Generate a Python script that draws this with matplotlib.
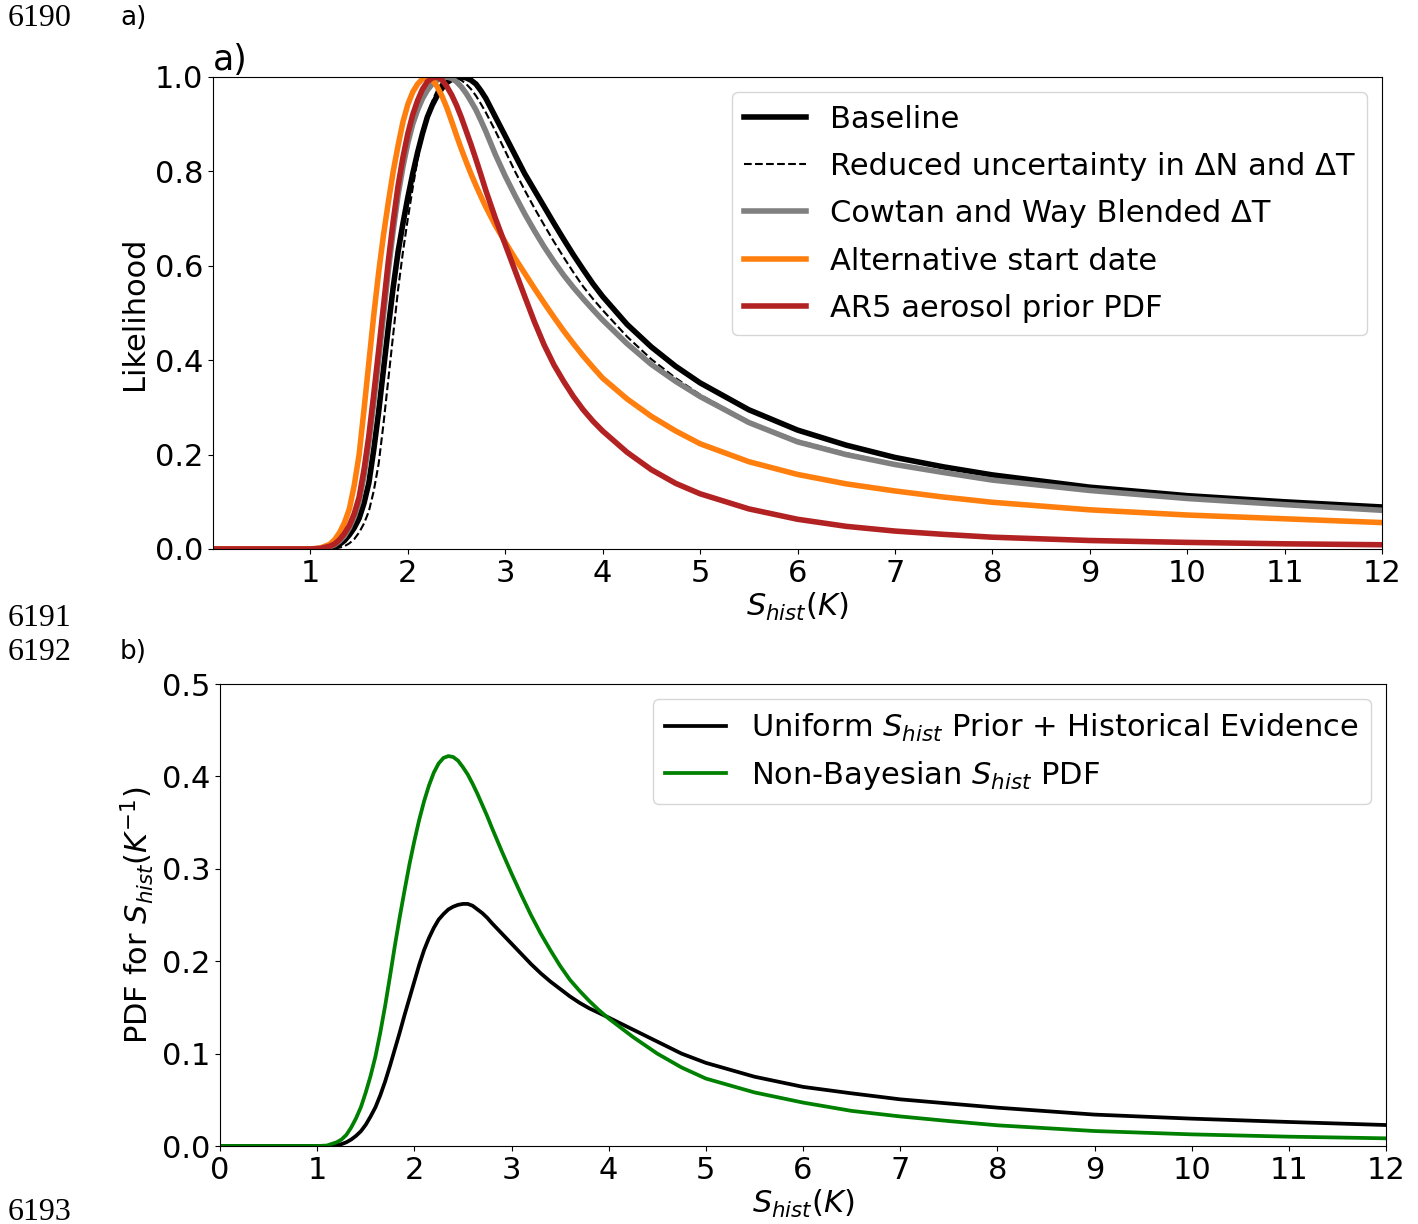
import matplotlib
matplotlib.use("Agg")
import matplotlib.pyplot as plt

# sensitivity grid (K), shared by all curves
s_hist = [0, 0.5, 1.0, 1.1,
          1.2, 1.25, 1.3, 1.35, 1.4, 1.45, 1.5, 1.55, 1.6, 1.65, 1.7, 1.75, 1.8, 1.85, 1.9, 1.95,
          2.0, 2.05, 2.1, 2.15, 2.2, 2.25, 2.3, 2.35, 2.4, 2.45, 2.5, 2.55, 2.6, 2.65, 2.7, 2.75, 2.8,
          2.9, 3.0, 3.1, 3.2, 3.3, 3.4, 3.5, 3.6, 3.7, 3.8, 3.9, 4.0,
          4.25, 4.5, 4.75, 5.0, 5.5, 6.0, 6.5, 7.0, 7.5, 8.0, 9.0, 10.0, 11.0, 12.0]

# panel a) likelihoods
baseline = [0, 0, 0, 0.001,
            0.003, 0.006, 0.01, 0.018, 0.03, 0.045, 0.065, 0.097, 0.14, 0.21, 0.29, 0.38, 0.47, 0.555, 0.63, 0.69,
            0.745, 0.795, 0.84, 0.88, 0.915, 0.94, 0.96, 0.976, 0.988, 0.995, 0.999, 1.0, 0.998, 0.993, 0.985, 0.971, 0.955,
            0.915, 0.875, 0.835, 0.795, 0.76, 0.725, 0.69, 0.656, 0.623, 0.592, 0.562, 0.535,
            0.476, 0.428, 0.387, 0.352, 0.295, 0.252, 0.22, 0.194, 0.174, 0.157, 0.131, 0.113, 0.100, 0.089]
reduced = [0, 0, 0, 0,
           0.0005, 0.001, 0.003, 0.006, 0.012, 0.021, 0.035, 0.054, 0.08, 0.123, 0.18, 0.265, 0.36, 0.455, 0.55, 0.63,
           0.70, 0.765, 0.825, 0.875, 0.915, 0.948, 0.972, 0.988, 0.996, 1.0, 0.998, 0.993, 0.985, 0.974, 0.96, 0.943, 0.925,
           0.885, 0.843, 0.8, 0.76, 0.722, 0.686, 0.651, 0.618, 0.586, 0.556, 0.53, 0.506,
           0.45, 0.402, 0.362, 0.327, 0.27, 0.23, 0.203, 0.181, 0.163, 0.147, 0.125, 0.108, 0.095, 0.083]
cowtan_way = [0, 0, 0, 0.001,
              0.005, 0.009, 0.017, 0.028, 0.045, 0.068, 0.1, 0.155, 0.225, 0.31, 0.40, 0.495, 0.59, 0.675, 0.75, 0.81,
              0.86, 0.9, 0.93, 0.954, 0.972, 0.985, 0.993, 0.998, 1.0, 0.997, 0.99, 0.979, 0.965, 0.948, 0.93, 0.908, 0.885,
              0.835, 0.79, 0.749, 0.71, 0.674, 0.64, 0.609, 0.58, 0.554, 0.53, 0.507, 0.485,
              0.435, 0.391, 0.355, 0.323, 0.268, 0.227, 0.2, 0.179, 0.162, 0.146, 0.124, 0.107, 0.094, 0.082]
alt_start = [0, 0, 0, 0.002,
             0.01, 0.02, 0.035, 0.056, 0.085, 0.135, 0.2, 0.295, 0.395, 0.495, 0.585, 0.665, 0.735, 0.80, 0.855, 0.905,
             0.942, 0.968, 0.985, 0.996, 1.0, 0.995, 0.98, 0.96, 0.935, 0.906, 0.876, 0.847, 0.82, 0.794, 0.77, 0.747, 0.725,
             0.685, 0.65, 0.616, 0.584, 0.552, 0.521, 0.491, 0.462, 0.435, 0.409, 0.385, 0.362,
             0.318, 0.281, 0.25, 0.223, 0.185, 0.158, 0.138, 0.123, 0.11, 0.099, 0.083, 0.072, 0.064, 0.056]
ar5_aerosol = [0, 0, 0, 0.001,
               0.006, 0.011, 0.02, 0.033, 0.05, 0.075, 0.11, 0.168, 0.24, 0.328, 0.42, 0.515, 0.61, 0.695, 0.77, 0.83,
               0.88, 0.92, 0.95, 0.974, 0.99, 0.998, 1.0, 0.994, 0.98, 0.962, 0.94, 0.914, 0.885, 0.856, 0.825, 0.793, 0.76,
               0.70, 0.645, 0.59, 0.535, 0.481, 0.432, 0.39, 0.355, 0.323, 0.295, 0.271, 0.25,
               0.205, 0.168, 0.139, 0.117, 0.085, 0.063, 0.048, 0.038, 0.031, 0.025, 0.018, 0.014, 0.011, 0.009]

# panel b) PDFs
uniform_pdf = [0, 0, 0, 0,
               0.001, 0.002, 0.004, 0.007, 0.011, 0.016, 0.023, 0.032, 0.042, 0.055, 0.07, 0.087, 0.105, 0.123, 0.142, 0.16,
               0.178, 0.196, 0.212, 0.225, 0.236, 0.245, 0.251, 0.256, 0.259, 0.261, 0.262, 0.262, 0.26, 0.256, 0.252, 0.247, 0.241,
               0.23, 0.219, 0.208, 0.197, 0.187, 0.178, 0.17, 0.162, 0.155, 0.149, 0.144, 0.139,
               0.126, 0.113, 0.1, 0.09, 0.075, 0.064, 0.057, 0.0505, 0.046, 0.0415, 0.034, 0.0296, 0.026, 0.0227]
nonbayes_pdf = [0, 0, 0, 0.0005,
                0.004, 0.007, 0.012, 0.02, 0.03, 0.042, 0.058, 0.076, 0.097, 0.123, 0.152, 0.184, 0.217, 0.248, 0.277, 0.305,
                0.33, 0.353, 0.373, 0.39, 0.404, 0.414, 0.42, 0.422, 0.421, 0.417, 0.41, 0.402, 0.392, 0.381, 0.369, 0.357, 0.344,
                0.319, 0.295, 0.272, 0.25, 0.23, 0.212, 0.195, 0.18, 0.168, 0.157, 0.147, 0.138,
                0.118, 0.1, 0.085, 0.073, 0.058, 0.047, 0.038, 0.032, 0.027, 0.0224, 0.0162, 0.0126, 0.0101, 0.0083]

plt.rcParams['font.size'] = 22
plt.rcParams['lines.solid_joinstyle'] = 'round'

W, H = 1418, 1224
fig = plt.figure(figsize=(W / 100, H / 100), dpi=100)

ax1 = fig.add_axes([213 / W, 1 - 549 / H, (1382 - 213) / W, (549 - 77) / H])
ax1.plot(s_hist, baseline, color='black', lw=4, label='Baseline')
ax1.plot(s_hist, reduced, color='black', lw=1.5, ls='--', label='Reduced uncertainty in ΔN and ΔT')
ax1.plot(s_hist, cowtan_way, color='grey', lw=4, label='Cowtan and Way Blended ΔT')
ax1.plot(s_hist, alt_start, color='tab:orange', lw=4, label='Alternative start date')
ax1.plot(s_hist, ar5_aerosol, color='firebrick', lw=4, label='AR5 aerosol prior PDF')
ax1.set_xlim(0, 12)
ax1.set_ylim(0, 1)
ax1.set_xticks(range(1, 13))
ax1.set_yticks([0.0, 0.2, 0.4, 0.6, 0.8, 1.0])
ax1.set_xlabel('$S_{hist}(K)$', labelpad=2)
ax1.set_ylabel('Likelihood', labelpad=4)
ax1.set_title('a)', loc='left', fontsize=25, pad=2)
ax1.legend(loc='upper right', fontsize=22, labelspacing=0.6)

ax2 = fig.add_axes([220 / W, 1 - 1146 / H, (1386 - 220) / W, (1146 - 684) / H])
ax2.plot(s_hist, uniform_pdf, color='black', lw=2.7,
         label='Uniform $S_{hist}$ Prior + Historical Evidence')
ax2.plot(s_hist, nonbayes_pdf, color='green', lw=2.7, label='Non-Bayesian $S_{hist}$ PDF')
ax2.set_xlim(0, 12)
ax2.set_ylim(0, 0.5)
ax2.set_xticks(range(0, 13))
ax2.set_yticks([0.0, 0.1, 0.2, 0.3, 0.4, 0.5])
ax2.set_xlabel('$S_{hist}(K)$', labelpad=2)
ax2.set_ylabel('PDF for $S_{hist}(K^{-1})$', labelpad=4)
ax2.legend(loc='upper right', fontsize=22)

# manuscript line numbers and panel tags
serif = dict(family='Liberation Serif', fontsize=23, va='center', ha='left')
fig.text(8 / W, 1 - 18 / H, '6190', **serif)
fig.text(8 / W, 1 - 618 / H, '6191', **serif)
fig.text(8 / W, 1 - 652 / H, '6192', **serif)
fig.text(8 / W, 1 - 1212 / H, '6193', **serif)
fig.text(120 / W, 1 - 18 / H, 'a)', fontsize=19, va='center', ha='left')
fig.text(120 / W, 1 - 652 / H, 'b)', fontsize=19, va='center', ha='left')

fig.savefig('out.png', dpi=100)
